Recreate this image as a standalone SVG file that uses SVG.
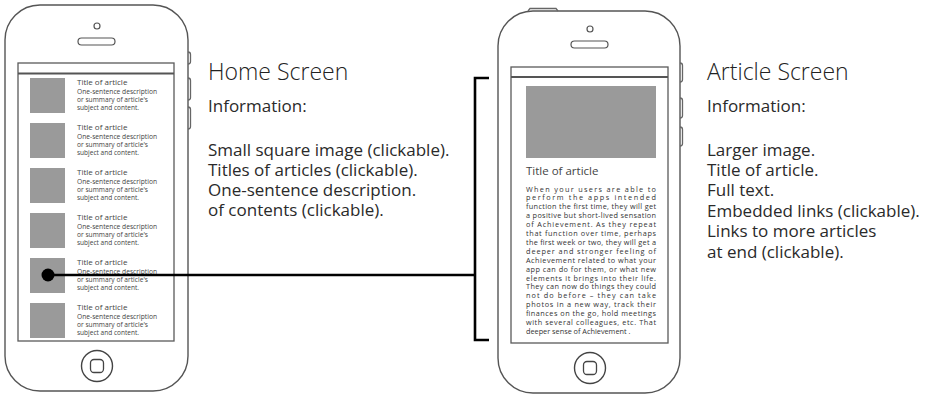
<svg xmlns="http://www.w3.org/2000/svg" xmlns:xlink="http://www.w3.org/1999/xlink" width="927" height="396" viewBox="0 0 927 396">
  <style>
    .body { fill: #fff; stroke: #555; stroke-width: 1.4; }
    .btn { fill: none; stroke: #666; stroke-width: 1.3; }
    .screen { fill: #fff; stroke: #5a5a5a; stroke-width: 1.3; }
    .bar { stroke: #555; stroke-width: 1.8; }
    .thumb { fill: #9a9a9a; }
    .t-title { font-family: "Open Sans", "Liberation Sans", sans-serif; font-size: 8px; fill: #444; }
    .t-desc { font-family: "Open Sans", "Liberation Sans", sans-serif; font-size: 6.3px; fill: #444; }
    .art { font-family: "Open Sans", "Liberation Sans", sans-serif; font-size: 7.3px; fill: #333; }
    .art-title { font-family: "Open Sans", "Liberation Sans", sans-serif; font-size: 11.5px; fill: #444; }
    .head { font-family: "Open Sans", "Liberation Sans", sans-serif; font-size: 23px; font-weight: 300; fill: #222; }
    .note { font-family: "Open Sans", "Liberation Sans", sans-serif; font-size: 17px; fill: #2a2a2a; }
    .wire { fill: none; stroke: #000; stroke-width: 2.6; }
  </style>
  <defs>
    <!-- one row of the article list: thumbnail, title, three-line summary -->
    <g id="row">
      <rect class="thumb" x="30" y="0" width="35" height="35"/>
      <text class="t-title" x="77" y="7">Title of article</text>
      <text class="t-desc" x="77" y="16" textLength="80" lengthAdjust="spacingAndGlyphs">One-sentence description</text>
      <text class="t-desc" x="77" y="24" textLength="71" lengthAdjust="spacingAndGlyphs">or summary of article's</text>
      <text class="t-desc" x="77" y="32" textLength="62" lengthAdjust="spacingAndGlyphs">subject and content.</text>
    </g>
  </defs>

  <!-- Home screen phone -->
  <g id="home-phone">
    <path class="body" d="M40,5 H153 A35,35 0 0 1 188,40 V356 A35,35 0 0 1 153,391 H40 A35,35 0 0 1 5,356 V40 A35,35 0 0 1 40,5 Z"/>
    <path class="btn" d="M188,52 q2.5,0 2.5,2.5 v7 q0,2.5 -2.5,2.5 M188,78 q2.5,0 2.5,2.5 v17 q0,2.5 -2.5,2.5 M188,107 q2.5,0 2.5,2.5 v17 q0,2.5 -2.5,2.5"/>
    <circle cx="97" cy="26" r="3" fill="none" stroke="#555" stroke-width="1.2"/>
    <rect x="78" y="38" width="37" height="7" rx="3.5" fill="none" stroke="#555" stroke-width="1.2"/>
    <rect class="screen" x="18" y="63" width="156" height="278"/>
    <line class="bar" x1="18" y1="73.5" x2="174" y2="73.5"/>
    <use xlink:href="#row" href="#row" y="78"/>
    <use xlink:href="#row" href="#row" y="123"/>
    <use xlink:href="#row" href="#row" y="168"/>
    <use xlink:href="#row" href="#row" y="213"/>
    <use xlink:href="#row" href="#row" y="258"/>
    <use xlink:href="#row" href="#row" y="303"/>
    <circle cx="97" cy="366" r="15.5" fill="none" stroke="#444" stroke-width="1.4"/>
    <rect x="90.5" y="359.5" width="13" height="13" rx="3.5" fill="none" stroke="#444" stroke-width="1.3"/>
  </g>

  <!-- Home screen notes -->
  <g id="home-notes">
    <text class="head" x="208" y="80">Home Screen</text>
    <text class="note" x="208" y="112">Information:</text>
    <text class="note" x="208" y="156">Small square image (clickable).</text>
    <text class="note" x="208" y="176">Titles of articles (clickable).</text>
    <text class="note" x="208" y="196">One-sentence description.</text>
    <text class="note" x="208" y="216">of contents (clickable).</text>
  </g>

  <!-- Article screen phone -->
  <g id="article-phone">
    <path class="body" d="M533,11 H645 A35,35 0 0 1 680,46 V358 A35,35 0 0 1 645,393 H533 A35,35 0 0 1 498,358 V46 A35,35 0 0 1 533,11 Z"/>
    <path class="btn" d="M528,11 l2,-2.5 h26 l2,2.5"/>
    <path class="btn" d="M680,63 q2.5,0 2.5,2.5 v14 q0,2.5 -2.5,2.5 M680,98 q2.5,0 2.5,2.5 v15 q0,2.5 -2.5,2.5 M680,127 q2.5,0 2.5,2.5 v14 q0,2.5 -2.5,2.5"/>
    <circle cx="590" cy="29" r="3" fill="none" stroke="#555" stroke-width="1.2"/>
    <rect x="571" y="41" width="37" height="7" rx="3.5" fill="none" stroke="#555" stroke-width="1.2"/>
    <rect class="screen" x="511" y="67" width="157" height="276"/>
    <line class="bar" x1="511" y1="77" x2="668" y2="77"/>
    <rect class="thumb" x="526" y="86" width="130" height="72"/>
    <text class="art-title" x="526" y="175">Title of article</text>
    <g class="art">
      <text x="526" y="191.5" textLength="130" lengthAdjust="spacing">When your users are able to</text>
      <text x="526" y="200.4" textLength="130" lengthAdjust="spacing">perform the apps intended</text>
      <text x="526" y="209.3" textLength="130" lengthAdjust="spacing">function the first time, they will get</text>
      <text x="526" y="218.2" textLength="130" lengthAdjust="spacing">a positive but short-lived sensation</text>
      <text x="526" y="227.1" textLength="130" lengthAdjust="spacing">of Achievement. As they repeat</text>
      <text x="526" y="236.0" textLength="130" lengthAdjust="spacing">that function over time, perhaps</text>
      <text x="526" y="244.9" textLength="130" lengthAdjust="spacing">the first week or two, they will get a</text>
      <text x="526" y="253.8" textLength="130" lengthAdjust="spacing">deeper and stronger feeling of</text>
      <text x="526" y="262.7" textLength="130" lengthAdjust="spacing">Achievement related to what your</text>
      <text x="526" y="271.6" textLength="130" lengthAdjust="spacing">app can do for them, or what new</text>
      <text x="526" y="280.5" textLength="130" lengthAdjust="spacing">elements it brings into their life.</text>
      <text x="526" y="289.4" textLength="130" lengthAdjust="spacing">They can now do things they could</text>
      <text x="526" y="298.3" textLength="130" lengthAdjust="spacing">not do before – they can take</text>
      <text x="526" y="307.2" textLength="130" lengthAdjust="spacing">photos in a new way, track their</text>
      <text x="526" y="316.1" textLength="130" lengthAdjust="spacing">finances on the go, hold meetings</text>
      <text x="526" y="325.0" textLength="130" lengthAdjust="spacing">with several colleagues, etc. That</text>
      <text x="526" y="333.9">deeper sense of Achievement .</text>
    </g>
    <circle cx="590" cy="368" r="15.5" fill="none" stroke="#444" stroke-width="1.4"/>
    <rect x="583.5" y="361.5" width="13" height="13" rx="3.5" fill="none" stroke="#444" stroke-width="1.3"/>
  </g>

  <!-- Article screen notes -->
  <g id="article-notes">
    <text class="head" x="707" y="80">Article Screen</text>
    <text class="note" x="707" y="112">Information:</text>
    <text class="note" x="707" y="156">Larger image.</text>
    <text class="note" x="707" y="176">Title of article.</text>
    <text class="note" x="707" y="196">Full text.</text>
    <text class="note" x="707" y="217">Embedded links (clickable).</text>
    <text class="note" x="707" y="237">Links to more articles</text>
    <text class="note" x="707" y="258">at end (clickable).</text>
  </g>

  <!-- Link from a list row to the article screen -->
  <g id="connectors">
    <circle cx="48" cy="275" r="6.5" fill="#000"/>
    <line class="wire" x1="48" y1="275" x2="475" y2="275"/>
    <path class="wire" d="M489,78 H475 V340 H489" stroke-width="3"/>
  </g>
</svg>
